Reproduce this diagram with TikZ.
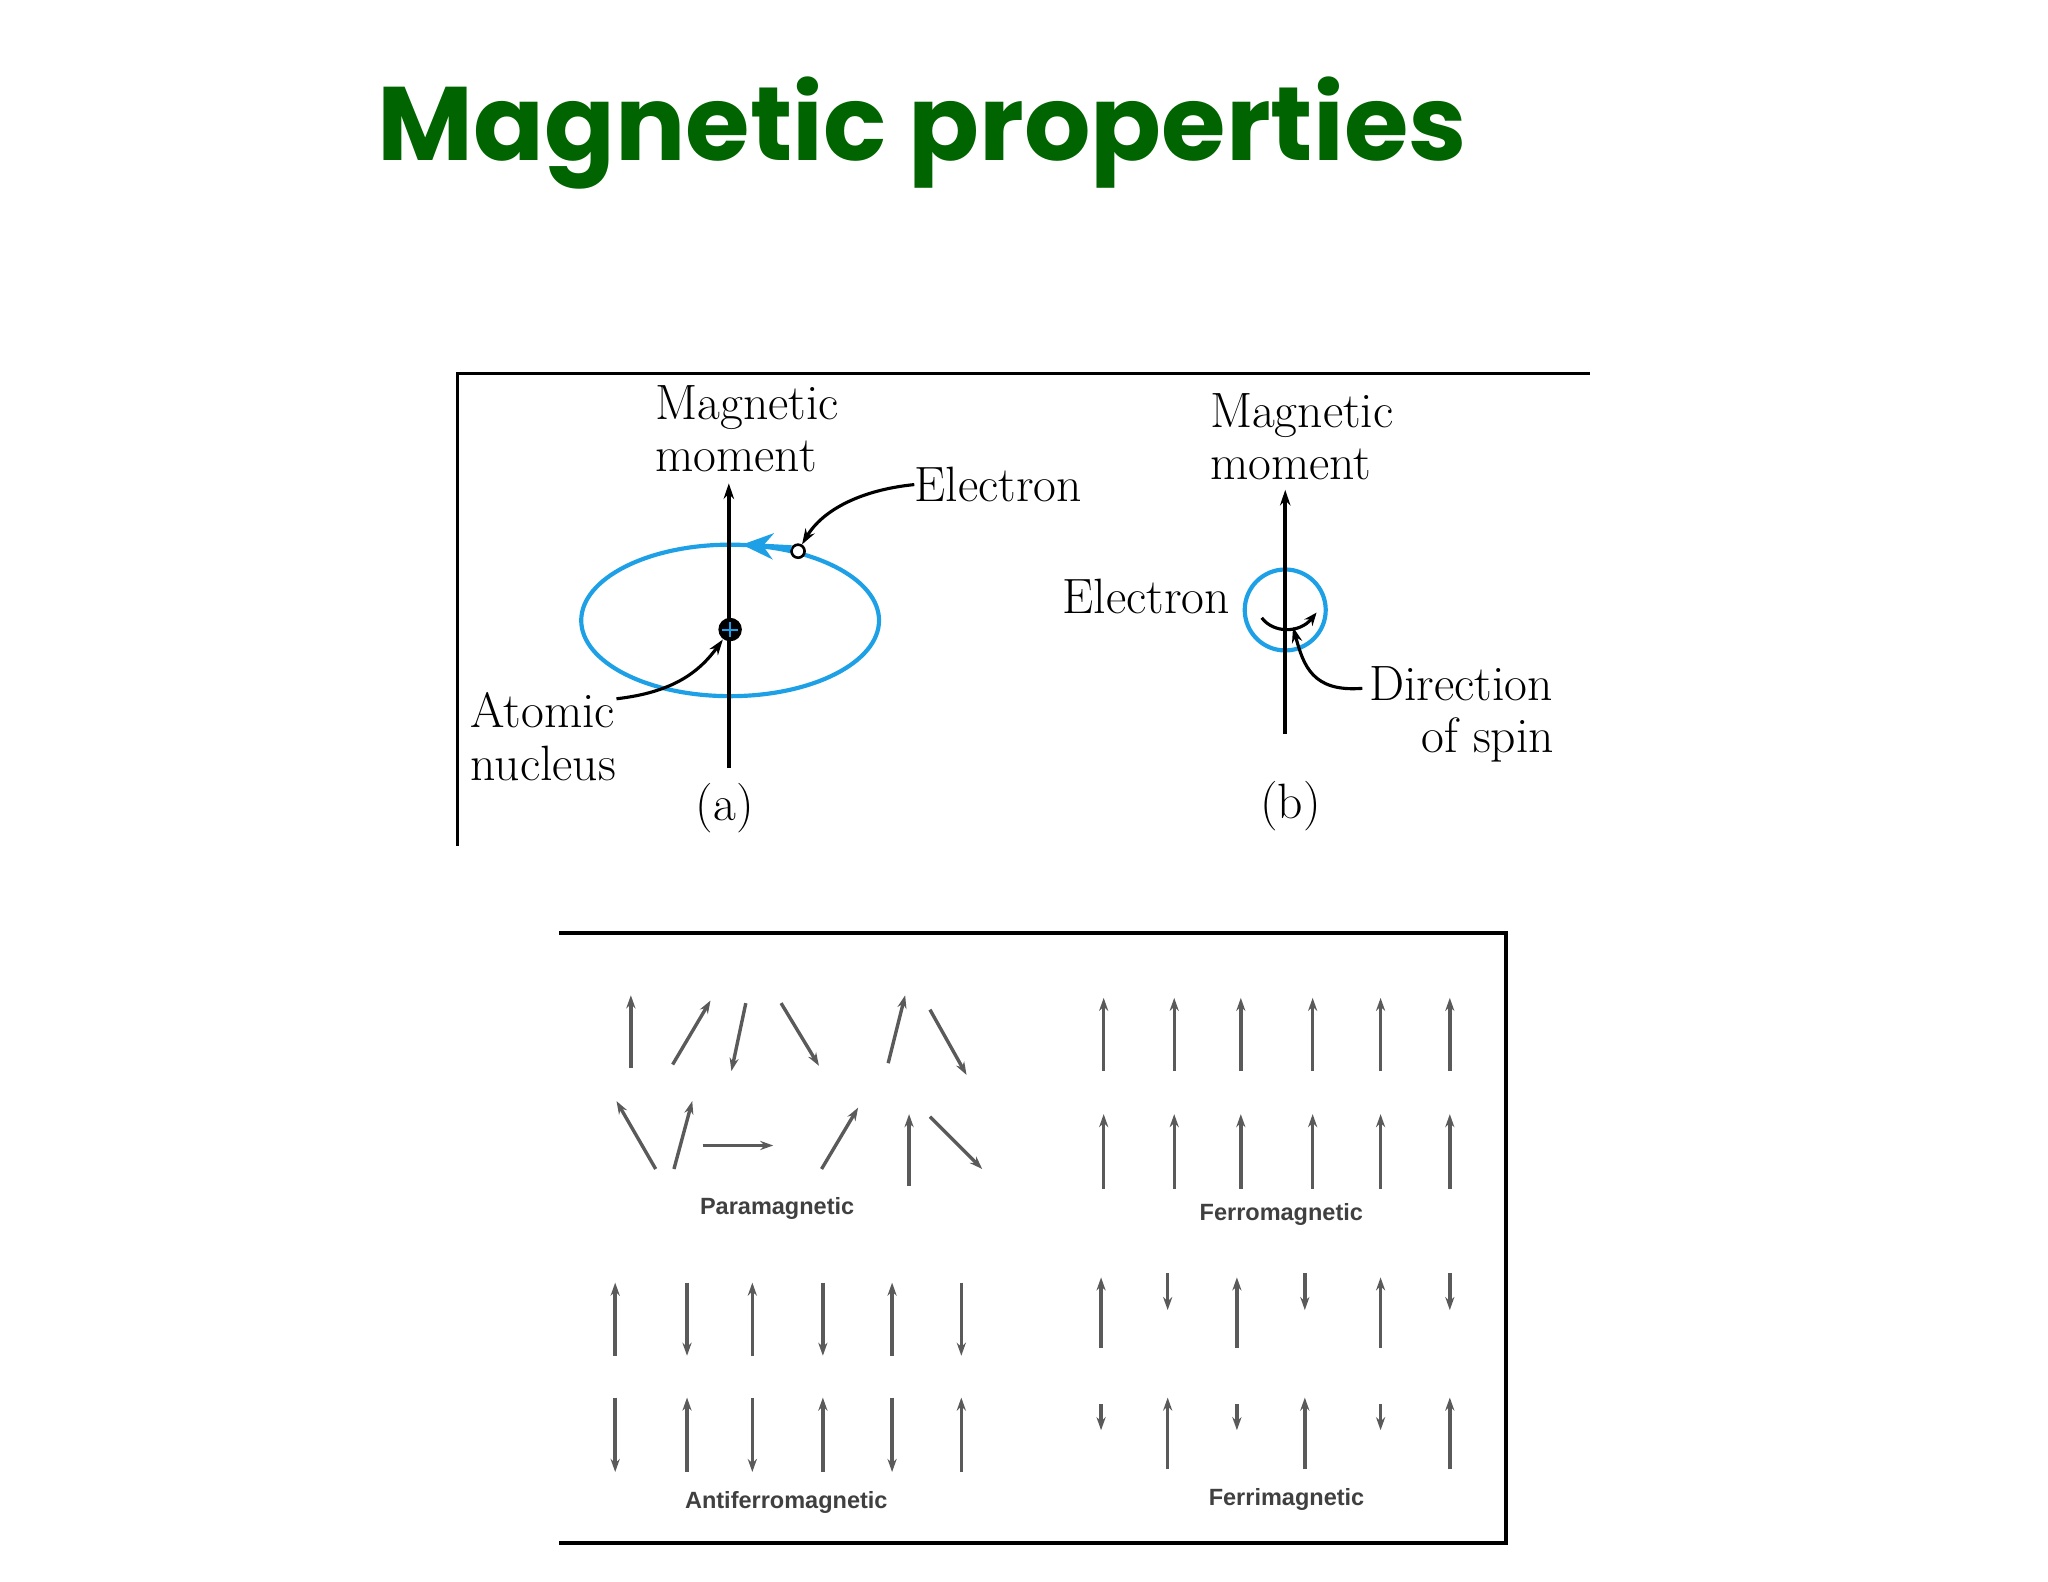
\documentclass[tikz,border=0pt]{standalone}
\usepackage{fontspec}
\newfontfamily\titlefont{Poppins}
\newfontfamily\labfont{Liberation Sans}
\usetikzlibrary{arrows.meta}
\definecolor{tgreen}{RGB}{0,100,0}
\definecolor{orb}{RGB}{30,160,230}
\definecolor{ar}{RGB}{90,90,90}
\begin{document}
\begin{tikzpicture}[x=0.5pt,y=-0.5pt,
  lbl/.style={font=\fontsize{19}{20}\selectfont,align=left,inner sep=0},
  mag/.style={ar,line width=1.3pt,-{Stealth[length=5pt,width=3.5pt]}},
  captxt/.style={font=\labfont\bfseries\fontsize{9}{10}\selectfont,text=black!75},
  blk/.style={line width=1.5pt,-{Stealth[length=6pt,width=4pt]}}]
\useasboundingbox (0,0) rectangle (1568,1211);
\node[font=\titlefont\bfseries\fontsize{40}{44}\selectfont,text=tgreen] (title) at (706,102) {Magnetic properties};
% frame 1
\draw[line width=1.2pt] (1217,286) -- (350,286) -- (350,648);
% (a)
\draw[orb,line width=1.6pt] (559,475) ellipse [x radius=114, y radius=58];
\coordinate (abot) at (558,588); \coordinate (atop) at (558,370);
\draw[blk] (abot) -- (atop);
\node[circle,fill=black,minimum size=9pt,inner sep=0] (nuc) at (559,482) {};
\draw[orb,line width=0.8pt] (553,482)--(565,482) (559,476)--(559,488);
\node[circle,draw,line width=1pt,fill=white,minimum size=5pt,inner sep=0] (el) at (611,422) {};
\draw[orb,line width=1.6pt,-{Stealth[length=12pt,width=10pt]}] (606,419) -- (568,417);
\node[lbl,anchor=west] (elab) at (700,371) {Electron};
\draw[line width=1.2pt,-{Stealth[length=6pt,width=4pt]}] (elab.west) .. controls (660,375) and (630,390) .. (el);
\node[lbl,anchor=south] (mma) at (572,362) {Magnetic\\moment};
\node[lbl,anchor=north west] (an) at (360,530) {Atomic\\nucleus};
\draw[line width=1.2pt,-{Stealth[length=6pt,width=4pt]}] (472,535) .. controls (515,530) and (535,515) .. (nuc);
\node[lbl] (la) at (555,619) {(a)};
% (b)
\draw[orb,line width=1.6pt] (984,467) circle (31);
\coordinate (bbot) at (984,562); \coordinate (btop) at (984,375);
\draw[blk] (bbot) -- (btop);
\draw[line width=1.2pt,-{Stealth[length=5pt,width=4pt]}] (966,473) .. controls (975,485) and (995,485) .. (1008,469);
\node[lbl,anchor=south west] (mmb) at (926,368) {Magnetic\\moment};
\node[lbl,anchor=east] (eb) at (942,457) {Electron};
\node[lbl,anchor=north west] (ds) at (1048,510) {Direction\\\hspace*{20pt}of spin};
\coordinate (sp) at (990,480);
\draw[line width=1.2pt,-{Stealth[length=6pt,width=4pt]}] (1043,527) .. controls (1005,530) and (998,510) .. (sp);
\node[lbl] (lb) at (988,617) {(b)};
% frame 2
\draw[line width=1.5pt] (428,714) -- (1153,714) -- (1153,1181) -- (428,1181);
% paramagnetic
\foreach \a/\b/\c/\d in {483/818/483/762, 515/815/544/766, 571/768/560/820, 598/768/627/816, 680/814/693/762, 712/773/740/823,
 502/895/472/843, 516/895/530/843, 538/877/592/877, 629/895/657/848, 696/908/696/853, 712/855/752/895}
  \draw[mag] (\a,\b) -- (\c,\d);
\node[captxt] (pm) at (595,925) {Paramagnetic};
% ferromagnetic
\foreach \x in {845,899,950,1005,1057,1110} {
  \draw[mag] (\x,820) -- (\x,764);
  \draw[mag] (\x,910) -- (\x,853);}
\node[captxt] (fm) at (981,930) {Ferromagnetic};
% antiferromagnetic
\foreach \x/\s in {471/1,526/-1,576/1,630/-1,683/1,736/-1} {
  \ifnum\s=1 \draw[mag] (\x,1038) -- (\x,982); \draw[mag] (\x,1070) -- (\x,1127);
  \else \draw[mag] (\x,982) -- (\x,1038); \draw[mag] (\x,1127) -- (\x,1070); \fi}
\node[captxt] (afm) at (602,1150) {Antiferromagnetic};
% ferrimagnetic
\foreach \x/\s in {843/1,894/-1,947/1,999/-1,1057/1,1110/-1} {
  \ifnum\s=1 \draw[mag] (\x,1032) -- (\x,978); \draw[mag] (\x,1075) -- (\x,1095);
  \else \draw[mag] (\x,975) -- (\x,1003); \draw[mag] (\x,1125) -- (\x,1070); \fi}
\node[captxt] (fim) at (985,1148) {Ferrimagnetic};
\end{tikzpicture}
\end{document}
